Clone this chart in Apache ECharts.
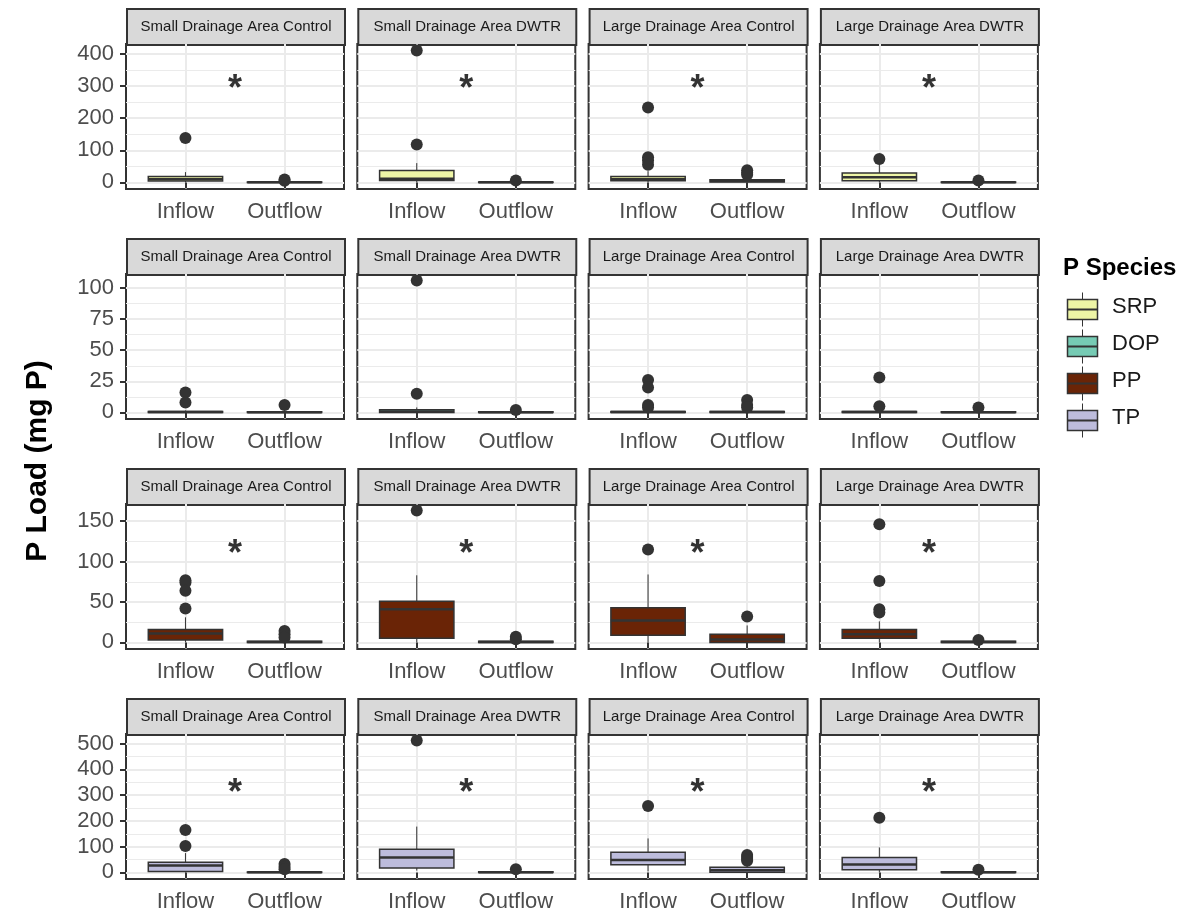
<!DOCTYPE html>
<html>
<head>
<meta charset="utf-8">
<script src="https://cdn.jsdelivr.net/npm/echarts@6/dist/echarts.min.js"></script>
<style>
  html, body { margin: 0; padding: 0; background: #ffffff; }
  #chart { width: 1190px; height: 913px; }
</style>
</head>
<body>
<div id="chart"></div>
<script>
// Facet columns (sites) and x categories
const sites = ['Small Drainage Area Control', 'Small Drainage Area DWTR', 'Large Drainage Area Control', 'Large Drainage Area DWTR'];
const flows = ['Inflow', 'Outflow'];

// Facet rows (P species) and their fills
const species = ['SRP', 'DOP', 'PP', 'TP'];
const speciesFill = ['#EEF5A6', '#76CBB4', '#6A2406', '#BDBCDC'];

// Y breaks per row
const yMajor = [[0, 100, 200, 300, 400], [0, 25, 50, 75, 100], [0, 50, 100, 150], [0, 100, 200, 300, 400, 500]];
const yMinor = [[50, 150, 250, 350], [12.5, 37.5, 62.5, 87.5], [25, 75, 125], [50, 150, 250, 350, 450]];

// Box statistics: per site, [Inflow, Outflow], each [lower whisker, Q1, median, Q3, upper whisker] (mg P)
const srpBoxes = [
  [[0, 4, 10, 18, 32], [0, 0, 0.5, 1.5, 3]],
  [[0, 6, 11, 37, 60], [0, 0, 0.5, 1.5, 3]],
  [[0, 5, 10, 18, 35], [0, 1, 4, 8, 15]],
  [[0, 5, 16, 29, 60], [0, 0, 0.5, 1.5, 3]]
];
const srpOutliers = [
  [[138], [9, 5]],
  [[410, 118], [6]],
  [[233, 78, 68, 55], [38, 30, 24]],
  [[73], [6]]
];

const dopBoxes = [
  [[0, 0, 0.3, 0.8, 1.5], [0, 0, 0.2, 0.6, 1]],
  [[0, 0, 0.8, 2.2, 4], [0, 0, 0.2, 0.5, 1]],
  [[0, 0, 0.3, 0.8, 2], [0, 0, 0.3, 0.8, 2]],
  [[0, 0, 0.3, 0.8, 2], [0, 0, 0.2, 0.6, 1.5]]
];
const dopOutliers = [
  [[16, 8], [6]],
  [[106, 15], [2]],
  [[26, 20, 6, 4], [10, 6, 4]],
  [[28, 5], [4]]
];

const ppBoxes = [
  [[0, 3, 11, 16, 31], [0, 0, 0.5, 1.5, 3]],
  [[0, 5, 41, 51, 83], [0, 0, 0.5, 1.5, 3]],
  [[0, 9, 27, 43, 84], [0, 0, 3.5, 10, 21]],
  [[0, 5, 10, 16, 26], [0, 0, 0.5, 1.5, 3]]
];
const ppOutliers = [
  [[77, 74, 64, 42], [14, 10, 6]],
  [[163], [7, 4]],
  [[115], [32]],
  [[146, 76, 41, 37], [3]]
];

const tpBoxes = [
  [[0, 4, 27, 39, 75], [0, 0, 1, 2, 5]],
  [[7, 17, 58, 90, 178], [0, 0, 1, 3, 6]],
  [[4, 30, 48, 78, 132], [0, 1, 8, 20, 35]],
  [[0, 10, 31, 58, 97], [0, 0, 1, 3, 6]]
];
const tpOutliers = [
  [[165, 103], [33, 22, 12]],
  [[512], [12]],
  [[258], [68, 60, 52, 45]],
  [[212], [10]]
];

// Significance markers per row and site, with their heights
const srpStars = ['*', '*', '*', '*'];
const dopStars = ['', '', '', ''];
const ppStars = ['*', '*', '*', '*'];
const tpStars = ['*', '*', '*', '*'];
const starY = [287, 0, 108, 304];

const rows = [
  { boxes: srpBoxes, outliers: srpOutliers, stars: srpStars },
  { boxes: dopBoxes, outliers: dopOutliers, stars: dopStars },
  { boxes: ppBoxes, outliers: ppOutliers, stars: ppStars },
  { boxes: tpBoxes, outliers: tpOutliers, stars: tpStars }
];

// Layout
const FONT = 'Liberation Sans, Arial, Helvetica, sans-serif';
const PANEL_LEFT = 126, PANEL_TOP = 44, PANEL_W = 218, PANEL_H = 145;
const STEP_X = 231.3, STEP_Y = 230, STRIP_H = 36;
const DARK = '#333333', GRID_COL = '#EBEBEB';
const BOX_HALF = 0.375;

function rowLimits(row) {
  let lo = Infinity, hi = -Infinity;
  row.boxes.forEach((site, c) => site.forEach((b, f) => {
    b.concat(row.outliers[c][f]).forEach(v => { lo = Math.min(lo, v); hi = Math.max(hi, v); });
  }));
  const pad = (hi - lo) * 0.05;
  return [lo - pad, hi + pad];
}

const grid = [], xAxis = [], yAxis = [], series = [], graphic = [];

rows.forEach((row, r) => {
  const [lo, hi] = rowLimits(row);
  sites.forEach((site, c) => {
    const i = r * 4 + c;
    const left = PANEL_LEFT + c * STEP_X;
    const top = PANEL_TOP + r * STEP_Y;

    grid.push({ left, top, width: PANEL_W, height: PANEL_H, show: true,
      borderColor: DARK, borderWidth: 2, backgroundColor: '#ffffff', containLabel: false });

    xAxis.push({
      gridIndex: i, type: 'value', min: 0.4, max: 2.6,
      axisLine: { show: false },
      axisTick: { show: true, customValues: [1, 2], length: 6, lineStyle: { color: DARK, width: 2 } },
      axisLabel: { show: true, customValues: [1, 2], formatter: v => flows[Math.round(v) - 1],
        fontSize: 22, color: '#4D4D4D', fontFamily: FONT, margin: 12 },
      splitLine: { show: true, lineStyle: { color: GRID_COL, width: 2 } }
    });

    yAxis.push({
      gridIndex: i, type: 'value', min: lo, max: hi,
      axisLine: { show: false },
      axisTick: { show: c === 0, customValues: yMajor[r], length: 6, lineStyle: { color: DARK, width: 2 } },
      axisLabel: { show: c === 0, customValues: yMajor[r], fontSize: 22, color: '#4D4D4D', fontFamily: FONT, margin: 12 },
      splitLine: { show: true, lineStyle: { color: GRID_COL, width: 2 } }
    });
    yAxis.push({
      gridIndex: i, type: 'value', min: lo, max: hi, position: 'left',
      axisLine: { show: false },
      axisTick: { show: false, customValues: yMinor[r] },
      axisLabel: { show: false, customValues: yMinor[r] },
      splitLine: { show: true, lineStyle: { color: GRID_COL, width: 1 } }
    });

    // boxes
    const boxData = row.boxes[c].map((b, f) => [f + 1].concat(b));
    series.push({
      type: 'custom', xAxisIndex: i, yAxisIndex: 2 * i, z: 3, silent: true,
      data: boxData,
      renderItem: (params, api) => {
        const x = api.value(0);
        const lw = api.coord([x, api.value(1)]);
        const uw = api.coord([x, api.value(5)]);
        const q1L = api.coord([x - BOX_HALF, api.value(2)]);
        const q3R = api.coord([x + BOX_HALF, api.value(4)]);
        const mL = api.coord([x - BOX_HALF, api.value(3)]);
        const mR = api.coord([x + BOX_HALF, api.value(3)]);
        return { type: 'group', children: [
          { type: 'line', shape: { x1: lw[0], y1: lw[1], x2: uw[0], y2: uw[1] }, style: { stroke: DARK, lineWidth: 1 } },
          { type: 'rect', shape: { x: q1L[0], y: q3R[1], width: q3R[0] - q1L[0], height: Math.max(q1L[1] - q3R[1], 0.5) },
            style: { fill: speciesFill[r], stroke: DARK, lineWidth: 1.5 } },
          { type: 'line', shape: { x1: mL[0], y1: mL[1], x2: mR[0], y2: mR[1] }, style: { stroke: DARK, lineWidth: 2.5 } }
        ] };
      }
    });

    // outliers
    const outData = [];
    row.outliers[c].forEach((vals, f) => vals.forEach(v => outData.push([f + 1, v])));
    series.push({
      type: 'scatter', xAxisIndex: i, yAxisIndex: 2 * i, z: 4, silent: true,
      symbol: 'circle', symbolSize: 12, itemStyle: { color: DARK, opacity: 1 },
      data: outData
    });

    // significance marker
    if (row.stars[c]) {
      series.push({
        type: 'scatter', xAxisIndex: i, yAxisIndex: 2 * i, z: 5, silent: true,
        symbolSize: 1, itemStyle: { color: 'rgba(0,0,0,0)' },
        data: [[1.5, starY[r]]],
        label: { show: true, position: 'inside', formatter: () => row.stars[c],
          fontSize: 36, fontWeight: 'bold', color: '#000000', fontFamily: FONT }
      });
    }

    // facet strip
    graphic.push({
      type: 'group', left: left, top: top - STRIP_H, z: 10,
      children: [
        { type: 'rect', shape: { x: 0, y: 0, width: PANEL_W, height: STRIP_H },
          style: { fill: '#D9D9D9', stroke: DARK, lineWidth: 2 } },
        { type: 'text', x: PANEL_W / 2, y: STRIP_H / 2,
          style: { text: site, fill: '#1A1A1A', font: '15px ' + FONT, align: 'center', verticalAlign: 'middle' } }
      ]
    });
  });
});

// y-axis title
graphic.push({
  type: 'text', x: 38, y: 461, rotation: Math.PI / 2, z: 10,
  style: { text: 'P Load (mg P)', fill: '#000000', font: 'bold 30px ' + FONT, align: 'center', verticalAlign: 'middle' }
});

// legend
graphic.push({
  type: 'text', x: 1063, y: 268, z: 10,
  style: { text: 'P Species', fill: '#000000', font: 'bold 24px ' + FONT, align: 'left', verticalAlign: 'middle' }
});
species.forEach((sp, k) => {
  const cy = 307 + k * 37;
  graphic.push({
    type: 'group', left: 1065, top: cy - 17, z: 10,
    children: [
      { type: 'line', shape: { x1: 15, y1: 0, x2: 15, y2: 34 }, style: { stroke: DARK, lineWidth: 1 } },
      { type: 'rect', shape: { x: 0, y: 7, width: 30, height: 20 }, style: { fill: speciesFill[k], stroke: DARK, lineWidth: 1.5 } },
      { type: 'line', shape: { x1: 0, y1: 17, x2: 30, y2: 17 }, style: { stroke: DARK, lineWidth: 2 } }
    ]
  });
  graphic.push({
    type: 'text', x: 1112, y: cy, z: 10,
    style: { text: sp, fill: '#1A1A1A', font: '22px ' + FONT, align: 'left', verticalAlign: 'middle' }
  });
});

const chart = echarts.init(document.getElementById('chart'), null, { renderer: 'canvas' });
chart.setOption({
  animation: false,
  backgroundColor: '#ffffff',
  grid, xAxis, yAxis, series, graphic
});
</script>
</body>
</html>
